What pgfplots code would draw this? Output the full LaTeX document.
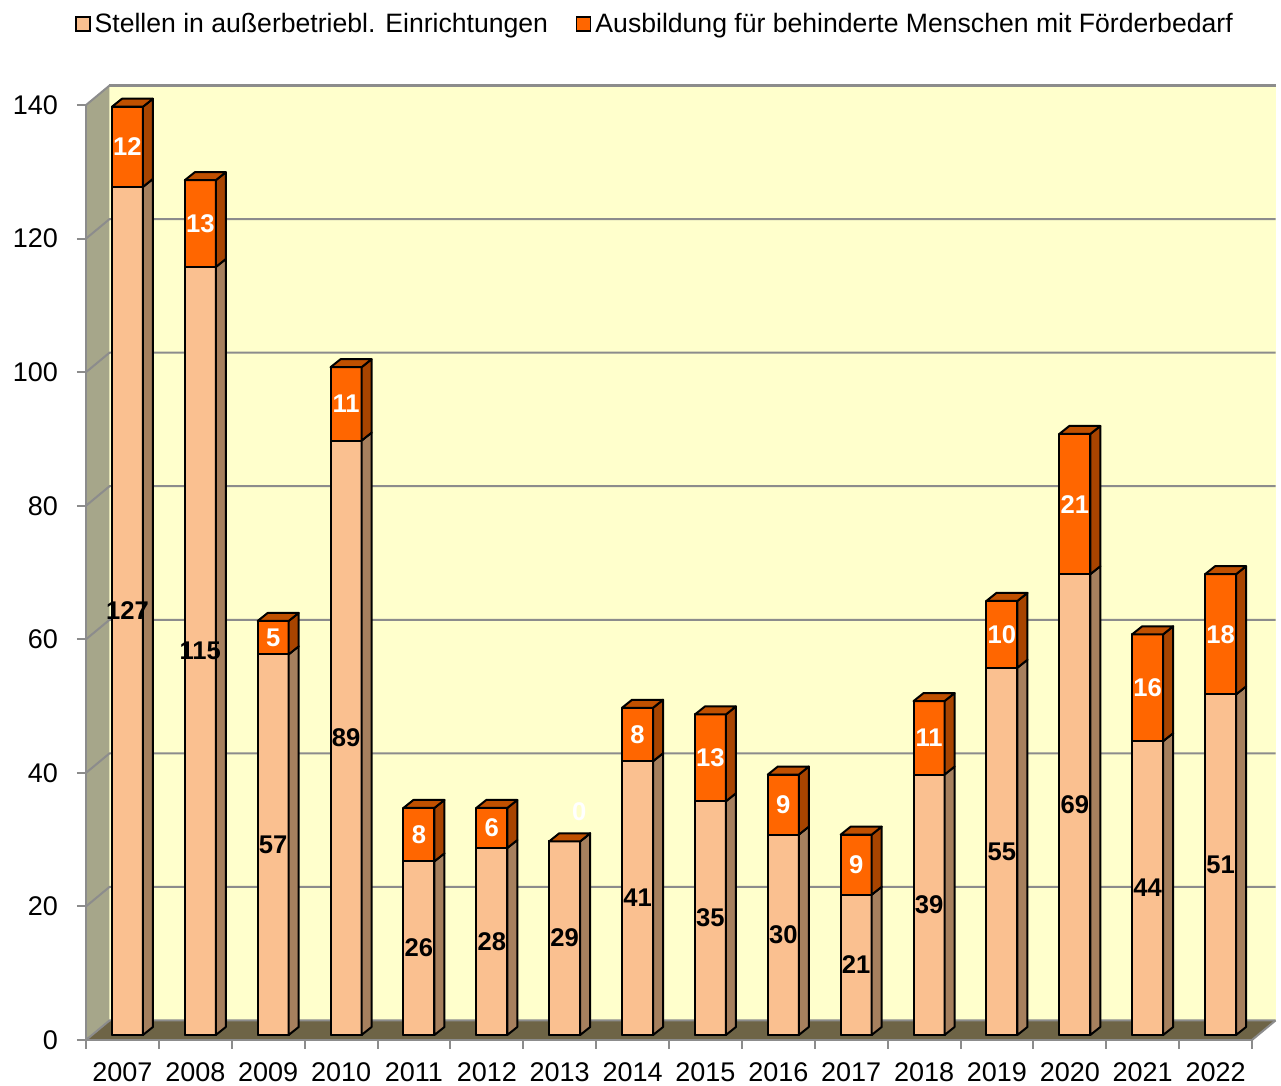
\documentclass[border=0pt]{standalone}
\usepackage{pgfplots}
\usepackage{pgfplotstable}
\usepackage{fontspec}
\setmainfont{Liberation Sans}
\pgfplotsset{compat=1.18}

\definecolor{peach}{HTML}{FAC090}
\definecolor{peachside}{HTML}{A6805E}
\definecolor{orng}{HTML}{FF6600}
\definecolor{orngtop}{HTML}{C05000}
\definecolor{orngside}{HTML}{A84400}
\definecolor{backwall}{HTML}{FFFFCC}
\definecolor{leftwall}{HTML}{A6A68A}
\definecolor{floorc}{HTML}{6E6446}
\definecolor{gridc}{HTML}{8C8C8C}

\pgfplotstableread{
x a b
0 127 12
1 115 13
2 57 5
3 89 11
4 26 8
5 28 6
6 29 0
7 41 8
8 35 13
9 30 9
10 21 9
11 39 11
12 55 10
13 69 21
14 44 16
15 51 18
}\data

\newcommand{\wdx}{11.75pt}
\newcommand{\wdy}{9.75pt}

\pgfdeclareplotmark{side3d}{%
  \pgfmathsetmacro\hh{\hval*3.339}%
  \pgfpathmoveto{\pgfqpoint{7.75pt}{0pt}}%
  \pgfpathlineto{\pgfqpoint{12.75pt}{4pt}}%
  \pgfpathlineto{\pgfpoint{12.75pt}{4pt-\hh pt}}%
  \pgfpathlineto{\pgfpoint{7.75pt}{-\hh pt}}%
  \pgfpathclose
  \pgfusepathqfillstroke
}
\pgfdeclareplotmark{top3d}{%
  \pgfpathmoveto{\pgfqpoint{-7.75pt}{0pt}}%
  \pgfpathlineto{\pgfqpoint{7.75pt}{0pt}}%
  \pgfpathlineto{\pgfqpoint{12.75pt}{4pt}}%
  \pgfpathlineto{\pgfqpoint{-2.75pt}{4pt}}%
  \pgfpathclose
  \pgfusepathqfillstroke
}

\begin{document}
\begin{tikzpicture}
\begin{axis}[
  name=ax,
  x=36.4375pt, y=3.339pt,
  xmin=-0.5, xmax=15.5, ymin=0, ymax=140,
  clip=false,
  axis on top,
  axis lines*=left,
  axis line style={draw=gridc, line width=1pt},
  xtick={-0.5,0.5,...,15.5},
  x tick label as interval,
  xticklabels={2007,2008,2009,2010,2011,2012,2013,2014,2015,2016,2017,2018,2019,2020,2021,2022},
  ytick={0,20,...,140},
  tick align=outside,
  major tick length=4.5pt,
  tick style={draw=gridc, line width=1pt},
  tick label style={font=\fontsize{13.5}{16}\selectfont},
  yticklabel style={xshift=-6pt},
  xticklabel style={yshift=-3.5pt},
  /pgf/number format/assume math mode=true,
  shift3d/.style={xshift=2.5pt, yshift=2.5pt},
  legend style={draw=none, fill=none, at={(0.5,1)}, anchor=center,
    xshift=-6.5pt, yshift=40.5pt, font=\fontsize{13.3}{16}\selectfont,
    /tikz/every even column/.append style={column sep=12pt}},
  legend columns=2,
  legend cell align=left,
]
\coordinate (O) at (axis cs:-0.5,0);
% walls
\fill[backwall] ([shift={(\wdx,\wdy)}]axis cs:-0.5,0) rectangle ([shift={(\wdx,\wdy)}]axis cs:15.5,140);
\fill[leftwall] (axis cs:-0.5,0) -- (axis cs:-0.5,140) -- ([shift={(\wdx,\wdy)}]axis cs:-0.5,140) -- ([shift={(\wdx,\wdy)}]axis cs:-0.5,0) -- cycle;
\fill[floorc] (axis cs:-0.5,0) -- (axis cs:15.5,0) -- ([shift={(\wdx,\wdy)}]axis cs:15.5,0) -- ([shift={(\wdx,\wdy)}]axis cs:-0.5,0) -- cycle;
\pgfplotsinvokeforeach{0,20,...,140}{
  \draw[gridc, line width=1pt] (axis cs:-0.5,#1) -- ([shift={(\wdx,\wdy)}]axis cs:-0.5,#1) -- ([shift={(\wdx,\wdy)}]axis cs:15.5,#1);
}
\draw[gridc, line width=1.5pt] ([shift={(\wdx,\wdy)}]axis cs:-0.5,140) -- ([shift={(\wdx,\wdy)}]axis cs:15.5,140);
\draw[gridc, line width=1pt] (axis cs:15.5,0) -- ([shift={(\wdx,\wdy)}]axis cs:15.5,0);

\addlegendimage{legend image code/.code={\draw[fill=peach,draw=black,line width=0.7pt] (0pt,-3.5pt) rectangle (7pt,3.5pt);}}
\addlegendentry{Stellen in außerbetriebl. Einrichtungen}
\addlegendimage{legend image code/.code={\draw[fill=orng,draw=black,line width=0.7pt] (0pt,-3.5pt) rectangle (7pt,3.5pt);}}
\addlegendentry{Ausbildung für behinderte Menschen mit Förderbedarf}

% 3D side and top faces
\addplot[forget plot, shift3d, scatter, only marks, mark=side3d,
  scatter/use mapped color={draw=black, fill=peachside},
  mark options={line width=1pt, line join=round},
  visualization depends on={\thisrow{a}\as\hval}]
  table[x=x, y=a] {\data};
\addplot[forget plot, shift3d, scatter, only marks, mark=side3d,
  scatter/use mapped color={draw=black, fill=orngside},
  mark options={line width=1pt, line join=round},
  visualization depends on={\thisrow{b}\as\hval}]
  table[x=x, y expr=\thisrow{a}+\thisrow{b}] {\data};
\addplot[forget plot, shift3d, scatter, only marks, mark=top3d,
  scatter/use mapped color={draw=black, fill=orngtop},
  mark options={line width=1pt, line join=round}]
  table[x=x, y expr=\thisrow{a}+\thisrow{b}] {\data};

% front faces
\addplot[forget plot, shift3d, ybar, bar width=15.5pt, bar shift=0pt, fill=orng, draw=black, line width=1pt, line join=round]
  table[x=x, y expr=\thisrow{a}+\thisrow{b}] {\data};
\addplot[forget plot, shift3d, ybar, bar width=15.5pt, bar shift=0pt, fill=peach, draw=black, line width=1pt, line join=round]
  table[x=x, y=a] {\data};

% labels
\addplot[forget plot, shift3d, draw=none, mark=none, nodes near coords, point meta=explicit,
  every node near coord/.append style={anchor=center, text=black, font=\bfseries\fontsize{12.8}{15}\selectfont}]
  table[x=x, y expr=\thisrow{a}/2, meta=a] {\data};
\addplot[forget plot, shift3d, draw=none, mark=none, nodes near coords, point meta=explicit,
  every node near coord/.append style={anchor=center, text=white, font=\bfseries\fontsize{12.8}{15}\selectfont}]
  table[x expr={\thisrow{x}+ifthenelse(\thisrow{b}<0.5,0.2,0)}, y expr={\thisrow{a}+0.5*\thisrow{b}+ifthenelse(\thisrow{b}<0.5,4.5,0)}, meta=b] {\data};
\end{axis}
\pgfresetboundingbox
\path[use as bounding box] ([shift={(-43pt,-23pt)}]O) rectangle ([shift={(597.5pt,520pt)}]O);
\end{tikzpicture}
\end{document}
